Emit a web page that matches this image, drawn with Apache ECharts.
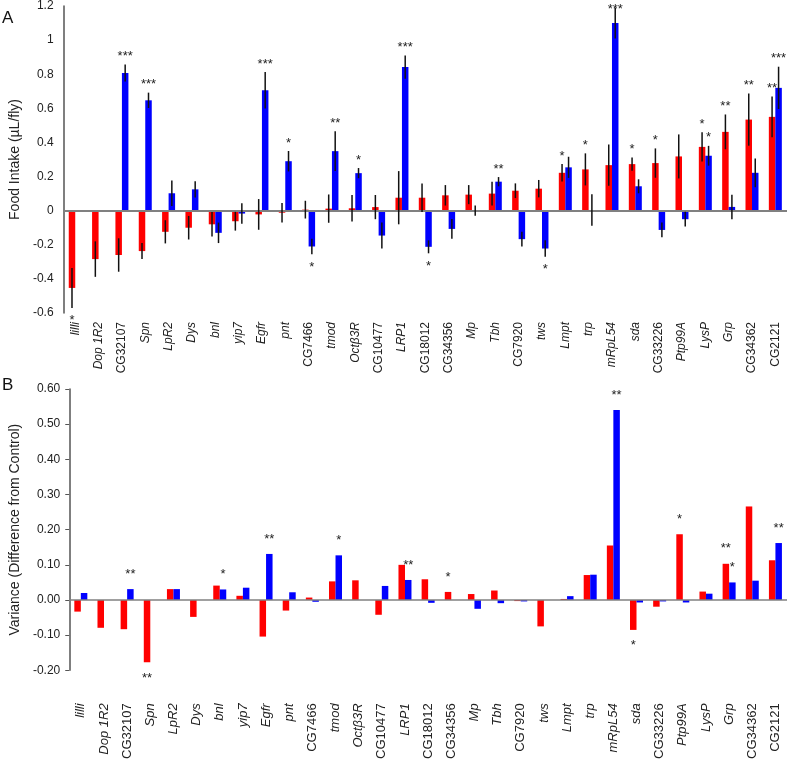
<!DOCTYPE html>
<html>
<head>
<meta charset="utf-8">
<script src="https://cdn.jsdelivr.net/npm/echarts/dist/echarts.min.js"></script>
<style>
  html, body { margin: 0; padding: 0; background: #fff; }
  #chart { width: 792px; height: 762px; }
</style>
</head>
<body>
<div id="chart"></div>
<script>
// genes, same order in both panels
const genes = ['lilli', 'Dop 1R2', 'CG32107', 'Spn', 'LpR2', 'Dys', 'bnl', 'yip7', 'Egfr', 'pnt',
  'CG7466', 'tmod', 'Octβ3R', 'CG10477', 'LRP1', 'CG18012', 'CG34356', 'Mp', 'Tbh', 'CG7920',
  'tws', 'Lmpt', 'trp', 'mRpL54', 'sda', 'CG33226', 'Ptp99A', 'LysP', 'Grp', 'CG34362', 'CG2121'];

// panel A - food intake (µL/fly)
const intakeRed = [-0.453, -0.284, -0.26, -0.237, -0.124, -0.1, -0.08, -0.062, -0.022, -0.012,
  0.006, 0.012, 0.014, 0.021, 0.076, 0.076, 0.09, 0.094, 0.1, 0.117,
  0.129, 0.222, 0.242, 0.267, 0.273, 0.279, 0.318, 0.374, 0.462, 0.534, 0.55];
const intakeRedErr = [0.117, 0.104, 0.098, 0.047, 0.068, 0.069, 0.072, 0.055, 0.09, 0.057,
  0.052, 0.083, 0.078, 0.071, 0.156, 0.084, 0.06, 0.056, 0.07, 0.043,
  0.051, 0.051, 0.094, 0.121, 0.039, 0.086, 0.129, 0.086, 0.102, 0.153, 0.12];
const intakeBlue = [0.003, -0.003, 0.807, 0.647, 0.102, 0.125, -0.13, -0.017, 0.706, 0.29,
  -0.21, 0.349, 0.22, -0.146, 0.842, -0.212, -0.107, 0, 0.17, -0.167,
  -0.222, 0.254, 0.004, 1.1, 0.143, -0.113, -0.05, 0.322, 0.022, 0.222, 0.72];
const intakeBlueErr = [0, 0, 0.05, 0.045, 0.075, 0.048, 0.06, 0.06, 0.107, 0.06,
  0.045, 0.117, 0.03, 0.076, 0.068, 0.038, 0.058, 0.03, 0.027, 0.043,
  0.048, 0.062, 0.092, 0.09, 0.041, 0.043, 0.043, 0.058, 0.072, 0.084, 0.124];
const intakeRedSig = ['*', '', '', '', '', '', '', '', '', '', '', '', '', '', '', '', '', '', '', '',
  '', '*', '*', '', '*', '*', '', '*', '**', '**', '**'];
const intakeBlueSig = ['', '', '***', '***', '', '', '', '', '***', '*', '*', '**', '*', '', '***', '*', '', '', '**', '',
  '*', '', '', '***', '', '', '', '*', '', '', '***'];

// panel B - variance (difference from control)
const varRed = [-0.033, -0.079, -0.083, -0.177, 0.031, -0.048, 0.041, 0.012, -0.104, -0.03,
  0.007, 0.053, 0.056, -0.042, 0.1, 0.059, 0.023, 0.017, 0.027, -0.003,
  -0.075, 0.003, 0.071, 0.155, -0.085, -0.019, 0.187, 0.024, 0.103, 0.266, 0.113];
const varBlue = [0.02, 0, 0.031, 0, 0.031, 0, 0.03, 0.035, 0.131, 0.022,
  -0.005, 0.127, 0, 0.04, 0.057, -0.008, 0, -0.025, -0.009, -0.004,
  0, 0.011, 0.072, 0.54, -0.007, -0.004, -0.007, 0.018, 0.05, 0.055, 0.162];
const varRedSig = ['', '', '', '**', '', '', '', '', '', '', '', '', '', '', '', '', '*', '', '', '',
  '', '', '', '', '*', '', '*', '', '**', '', ''];
const varBlueSig = ['', '', '**', '', '', '', '*', '', '**', '', '', '*', '', '', '**', '', '', '', '', '',
  '', '', '', '**', '', '', '', '', '*', '', '**'];

const FONT = '"Liberation Sans", Arial, Helvetica, sans-serif';
const RED = '#ff0000';
const BLUE = '#0000ff';
const BAR_W = 6.5;

const chart = echarts.init(document.getElementById('chart'));

function bars(idx, vals, color, zeroLine) {
  const s = {
    type: 'bar',
    xAxisIndex: idx,
    yAxisIndex: idx,
    data: vals,
    barWidth: BAR_W,
    barGap: '0%',
    itemStyle: { color: color },
    z: 2
  };
  if (zeroLine) {
    s.markLine = {
      silent: true,
      symbol: ['none', 'none'],
      label: { show: false },
      lineStyle: { color: '#808080', width: zeroLine, type: 'solid' },
      data: [{ yAxis: 0 }]
    };
  }
  return s;
}

// error bars + significance stars, drawn next to each bar
function marks(idx, vals, errs, sigs, side, gapUp, gapDown) {
  return {
    type: 'custom',
    xAxisIndex: idx,
    yAxisIndex: idx,
    z: 10,
    clip: false,
    data: vals.map((v, i) => [i, v, errs ? errs[i] : 0]),
    encode: { x: 0, y: 1 },
    renderItem: function (params, api) {
      const i = api.value(0), v = api.value(1), e = api.value(2);
      const x = api.coord([i, v])[0] + side * BAR_W / 2;
      const kids = [];
      if (e > 0) {
        kids.push({
          type: 'line',
          shape: { x1: x, y1: api.coord([i, v + e])[1], x2: x, y2: api.coord([i, v - e])[1] },
          style: { stroke: '#111', lineWidth: 1.5 }
        });
      }
      const sig = sigs[params.dataIndex];
      if (sig) {
        const up = v >= 0;
        const yEnd = api.coord([i, up ? v + e : v - e])[1];
        let y = up ? yEnd - gapUp : yEnd + gapDown;
        y = Math.max(y, 9);
        kids.push({
          type: 'text',
          x: x,
          y: y,
          style: { text: sig, fill: '#222', fontSize: 13, fontFamily: FONT, align: 'center', verticalAlign: 'middle' }
        });
      }
      return { type: 'group', children: kids };
    }
  };
}

function catAxis(idx, margin, size) {
  return {
    type: 'category',
    gridIndex: idx,
    data: genes,
    axisLine: { show: false },
    axisTick: { show: false },
    axisLabel: {
      interval: 0,
      rotate: 90,
      margin: margin,
      formatter: name => /^CG/.test(name) ? '{n|' + name + '}' : '{i|' + name + '}',
      rich: {
        n: { fontSize: size, fontFamily: FONT, color: '#222' },
        i: { fontSize: size, fontFamily: FONT, color: '#222', fontStyle: 'italic' }
      }
    }
  };
}

chart.setOption({
  animation: false,
  backgroundColor: '#fff',
  textStyle: { fontFamily: FONT },
  graphic: [
    { type: 'text', left: 2, top: 10, style: { text: 'A', fontSize: 17, fontFamily: FONT, fill: '#111' } },
    { type: 'text', left: 2, top: 377, style: { text: 'B', fontSize: 17, fontFamily: FONT, fill: '#111' } }
  ],
  grid: [
    { left: 61, right: 5, top: 5.5, bottom: 449 },
    { left: 61, right: 5, top: 389, bottom: 91 }
  ],
  xAxis: [catAxis(0, 9, 12), catAxis(1, 33, 13)],
  yAxis: [
    {
      type: 'value', gridIndex: 0, min: -0.6, max: 1.2, interval: 0.2,
      axisLine: { show: true, lineStyle: { color: '#555', width: 1.5 } },
      axisTick: { show: false },
      splitLine: { show: false },
      axisLabel: { fontSize: 12, color: '#222', margin: 10 },
      name: 'Food Intake (µL/fly)', nameLocation: 'middle', nameGap: 30,
      nameTextStyle: { fontSize: 14, color: '#222' }
    },
    {
      type: 'value', gridIndex: 1, min: -0.2, max: 0.6, interval: 0.1,
      axisLine: { show: true, lineStyle: { color: '#555', width: 1.5 } },
      axisTick: { show: true, length: 4, lineStyle: { color: '#555' } },
      splitLine: { show: false },
      axisLabel: { fontSize: 12, color: '#222', margin: 9, formatter: v => v.toFixed(2) },
      name: 'Variance (Difference from Control)', nameLocation: 'middle', nameGap: 43,
      nameTextStyle: { fontSize: 14, color: '#222' }
    }
  ],
  series: [
    bars(0, intakeRed, RED, 2),
    bars(0, intakeBlue, BLUE),
    marks(0, intakeRed, intakeRedErr, intakeRedSig, -1, 8, 13),
    marks(0, intakeBlue, intakeBlueErr, intakeBlueSig, 1, 8, 13),
    bars(1, varRed, RED, 1.5),
    bars(1, varBlue, BLUE),
    marks(1, varRed, null, varRedSig, -1, 15, 16),
    marks(1, varBlue, null, varBlueSig, 1, 15, 16)
  ]
});
</script>
</body>
</html>
